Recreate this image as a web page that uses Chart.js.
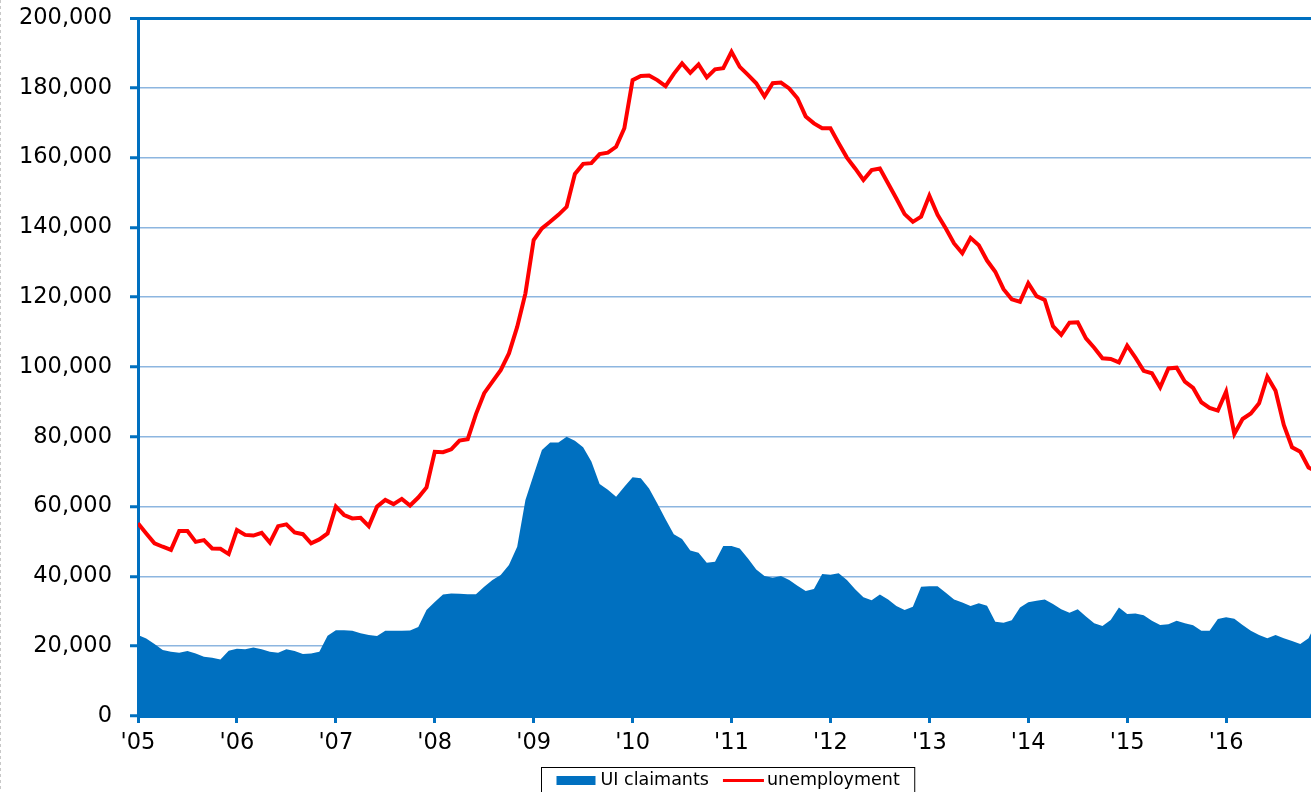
<!DOCTYPE html>
<html>
<head>
<meta charset="utf-8">
<script src="https://cdn.jsdelivr.net/npm/chart.js@4/dist/chart.umd.min.js"></script>
<style>
  html, body { margin: 0; padding: 0; background: #ffffff; }
  #wrap { width: 1311px; height: 792px; position: relative; overflow: hidden; }
</style>
</head>
<body>
<div id="wrap"><canvas id="c" width="1311" height="792"></canvas></div>
<script>
// Year tick labels (one per January, starting Jan 2005)
const yearLabels = ["'05","'06","'07","'08","'09","'10","'11","'12","'13","'14","'15","'16"];

// Monthly series, Jan 2005 onward
const uiClaimants = [
  23200,22200,20600,18900,18400,18100,18600,17900,17000,16700,16200,18700,
  19300,19100,19600,19100,18400,18100,19100,18600,17800,17900,18400,23000,
  24600,24600,24400,23700,23200,22900,24400,24400,24400,24500,25500,30400,
  32700,34800,35100,35000,34900,34900,37000,39000,40400,43300,48500,61900,
  69100,76200,78400,78400,80000,78900,77000,72900,66500,64800,62800,65700,
  68400,68100,65200,60900,56400,52100,50700,47400,46800,43900,44200,48700,
  48700,48000,45100,42000,40100,39600,40100,39000,37300,35800,36400,40700,
  40500,40900,39000,36300,34000,33200,34800,33400,31500,30400,31300,37000,
  37200,37200,35300,33400,32500,31500,32300,31600,27000,26700,27400,31100,
  32600,33000,33400,32100,30600,29600,30600,28500,26600,25800,27500,31100,
  29200,29400,28900,27300,26100,26300,27300,26600,26000,24400,24400,27800,
  28300,27900,26100,24400,23200,22300,23200,22300,21500,20600,22300,27000
];
const unemployment = [
  55200,52300,49500,48500,47600,53000,53000,49900,50400,48000,47900,46400,
  53300,51900,51700,52500,49700,54400,54900,52600,52100,49500,50600,52300,
  60000,57600,56600,56800,54400,60000,61900,60700,62200,60300,62600,65500,
  75700,75600,76400,78900,79300,86500,92500,95800,99100,103900,111500,121100,
  136400,139700,141600,143600,145900,155300,158200,158400,161000,161400,163100,168400,
  182200,183400,183500,182200,180500,184000,187000,184300,186700,183000,185300,185600,
  190300,186000,183700,181300,177500,181300,181500,179800,177000,171800,169800,168400,
  168400,164100,160000,156900,153600,156400,156900,152600,148300,143800,141600,143100,
  149100,143600,139700,135400,132600,137000,134900,130500,127300,122300,119400,118700,
  124000,120300,119200,111700,109200,112700,112800,108200,105500,102500,102300,101300,
  106100,102700,98900,98200,94200,99600,99800,95800,94000,89900,88300,87500,
  92900,80800,85100,86700,89600,97200,93200,83400,77000,75700,71200,70000
];
const seriesNames = ["UI claimants", "unemployment"];
const yTicks = [0,20000,40000,60000,80000,100000,120000,140000,160000,180000,200000];

const BLUE = '#0070C0';
const RED = '#FF0000';
const GRID = '#8DB6E0';
const FONT = "'DejaVu Sans', 'Liberation Sans', Arial, sans-serif";

const toPoints = arr => arr.map((v, i) => ({ x: i, y: v }));

const boxLegend = {
  id: 'boxLegend',
  afterDraw(chart) {
    const ctx = chart.ctx;
    // dotted frame edge on the left
    ctx.save();
    ctx.strokeStyle = '#c8c8c8';
    ctx.lineWidth = 1;
    ctx.setLineDash([3, 3]);
    ctx.beginPath();
    ctx.moveTo(0.5, 0);
    ctx.lineTo(0.5, chart.height);
    ctx.stroke();
    ctx.restore();

    ctx.save();
    ctx.font = '17.5px ' + FONT;
    const t1 = seriesNames[0], t2 = seriesNames[1];
    const w1 = ctx.measureText(t1).width, w2 = ctx.measureText(t2).width;
    const padL = 15, sw = 39, gap = 5, itemGap = 14, lw = 41, gap2 = 3, padR = 15;
    const total = padL + sw + gap + w1 + itemGap + lw + gap2 + w2 + padR;
    const cx = 728;
    const left = Math.round(cx - total / 2) + 0.5;
    const top = 767.5;
    ctx.strokeStyle = '#000';
    ctx.lineWidth = 1;
    ctx.strokeRect(left, top, total, 40);
    let x = left + padL;
    ctx.fillStyle = BLUE;
    ctx.fillRect(x, 776, sw, 9);
    x += sw + gap;
    ctx.fillStyle = '#000';
    ctx.textBaseline = 'alphabetic';
    ctx.textAlign = 'left';
    ctx.fillText(t1, x, 785);
    x += w1 + itemGap;
    ctx.strokeStyle = RED;
    ctx.lineWidth = 3;
    ctx.beginPath();
    ctx.moveTo(x, 780.5);
    ctx.lineTo(x + lw, 780.5);
    ctx.stroke();
    x += lw + gap2;
    ctx.fillText(t2, x, 785);
    ctx.restore();
  }
};

new Chart(document.getElementById('c'), {
  type: 'line',
  data: {
    datasets: [
      {
        label: seriesNames[0],
        data: toPoints(uiClaimants),
        borderColor: BLUE,
        backgroundColor: BLUE,
        borderWidth: 0,
        fill: 'origin',
        pointRadius: 0,
        tension: 0,
        order: 2
      },
      {
        label: seriesNames[1],
        data: toPoints(unemployment),
        borderColor: RED,
        backgroundColor: RED,
        borderWidth: 4,
        fill: false,
        pointRadius: 0,
        tension: 0,
        order: 1
      }
    ]
  },
  options: {
    responsive: false,
    animation: false,
    devicePixelRatio: 1,
    layout: { padding: { top: 18, right: 0, bottom: 36, left: 0 } },
    plugins: {
      legend: { display: false },
      tooltip: { enabled: false }
    },
    scales: {
      x: {
        type: 'linear',
        min: 0,
        max: 142.3,
        afterBuildTicks: s => { s.ticks = yearLabels.map((_, k) => ({ value: k * 12 })); },
        afterFit: s => { s.height = 40; s.paddingLeft = 0; s.paddingRight = 0; },
        ticks: {
          autoSkip: false,
          maxRotation: 0,
          padding: 7,
          color: '#000',
          font: { family: FONT, size: 22.5 },
          callback: v => yearLabels[Math.round(v / 12)]
        },
        grid: {
          drawOnChartArea: false,
          drawTicks: true,
          tickLength: 7,
          tickWidth: 3,
          tickColor: BLUE,
          color: BLUE
        },
        border: { display: true, color: BLUE, width: 3 }
      },
      y: {
        min: 0,
        max: 200000,
        afterBuildTicks: s => { s.ticks = yTicks.map(v => ({ value: v })); },
        afterFit: s => { s.width = 138; s.paddingTop = 0; s.paddingBottom = 0; },
        ticks: {
          padding: 18,
          color: '#000',
          font: { family: FONT, size: 22.5 },
          callback: v => v.toLocaleString('en-US')
        },
        grid: {
          color: c => (c.tick && c.tick.value === 200000) ? BLUE : GRID,
          lineWidth: c => (c.tick && c.tick.value === 200000) ? 3 : 1.5,
          tickLength: 8,
          tickWidth: 3,
          tickColor: BLUE
        },
        border: { display: true, color: BLUE, width: 3 }
      }
    }
  },
  plugins: [boxLegend]
});
</script>
</body>
</html>
